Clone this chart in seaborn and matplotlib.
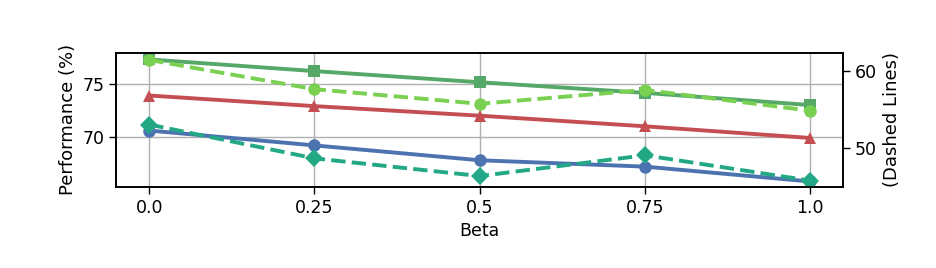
import matplotlib
matplotlib.use("Agg")
import matplotlib.pyplot as plt
import seaborn as sns
import pandas as pd

beta = [0.0, 0.25, 0.5, 0.75, 1.0]
tick_labels = ["0.0", "0.25", "0.5", "0.75", "1.0"]

# left axis (solid lines)
solid_green = [77.3, 76.2, 75.15, 74.15, 73.0]
solid_red = [73.9, 72.9, 72.0, 71.0, 69.9]
solid_blue = [70.6, 69.2, 67.8, 67.2, 65.8]

# right axis (dashed lines)
dashed_lightgreen = [61.4, 57.6, 55.7, 57.5, 54.8]
dashed_teal = [53.0, 48.6, 46.3, 49.0, 45.7]

sns.set_style("ticks")
plt.rcParams['font.family'] = ['DejaVu Sans']
plt.rcParams['font.size'] = 12
plt.rcParams['text.color'] = 'black'
plt.rcParams['axes.labelcolor'] = 'black'

fig, ax = plt.subplots(figsize=(9.37, 2.68), dpi=100)
fig.subplots_adjust(left=0.124, right=0.9, top=0.802, bottom=0.303)
ax2 = ax.twinx()

lw = 2.8
ms = 9
for vals, col, mk in [(solid_green, '#55a868', 's'),
                      (solid_red, '#c44e52', '^'),
                      (solid_blue, '#4c72b0', 'o')]:
    df = pd.DataFrame({'Beta': beta, 'v': vals})
    sns.lineplot(data=df, x='Beta', y='v', ax=ax, color=col, marker=mk,
                 markersize=ms, linewidth=lw, markeredgewidth=0)

for vals, col, mk in [(dashed_lightgreen, '#7ad151', 'o'),
                      (dashed_teal, '#22a884', 'D')]:
    df = pd.DataFrame({'Beta': beta, 'v': vals})
    sns.lineplot(data=df, x='Beta', y='v', ax=ax2, color=col, marker=mk,
                 markersize=ms, linewidth=lw, linestyle='--', markeredgewidth=0)

ax.set_ylim(65.3, 77.9)
ax2.set_ylim(44.9, 62.3)
ax.set_yticks([70, 75])
ax2.set_yticks([50, 60])
ax.set_xticks(beta)
ax.set_xticklabels(tick_labels)
ax.set_xlabel("Beta", fontsize=12.5, color='black')
ax.set_ylabel("Performance (%)", fontsize=13, color='black')
ax2.set_ylabel("(Dashed Lines)", fontsize=13, color='black')
ax.grid(True, color='#b0b0b0', linewidth=1)
ax2.grid(False)
for a in (ax, ax2):
    for s in a.spines.values():
        s.set_visible(True)
        s.set_color('black')
        s.set_linewidth(1.2)
    a.tick_params(direction='out', length=5, width=1, colors='black', labelsize=12.5)

fig.savefig("out.png", dpi=100)
